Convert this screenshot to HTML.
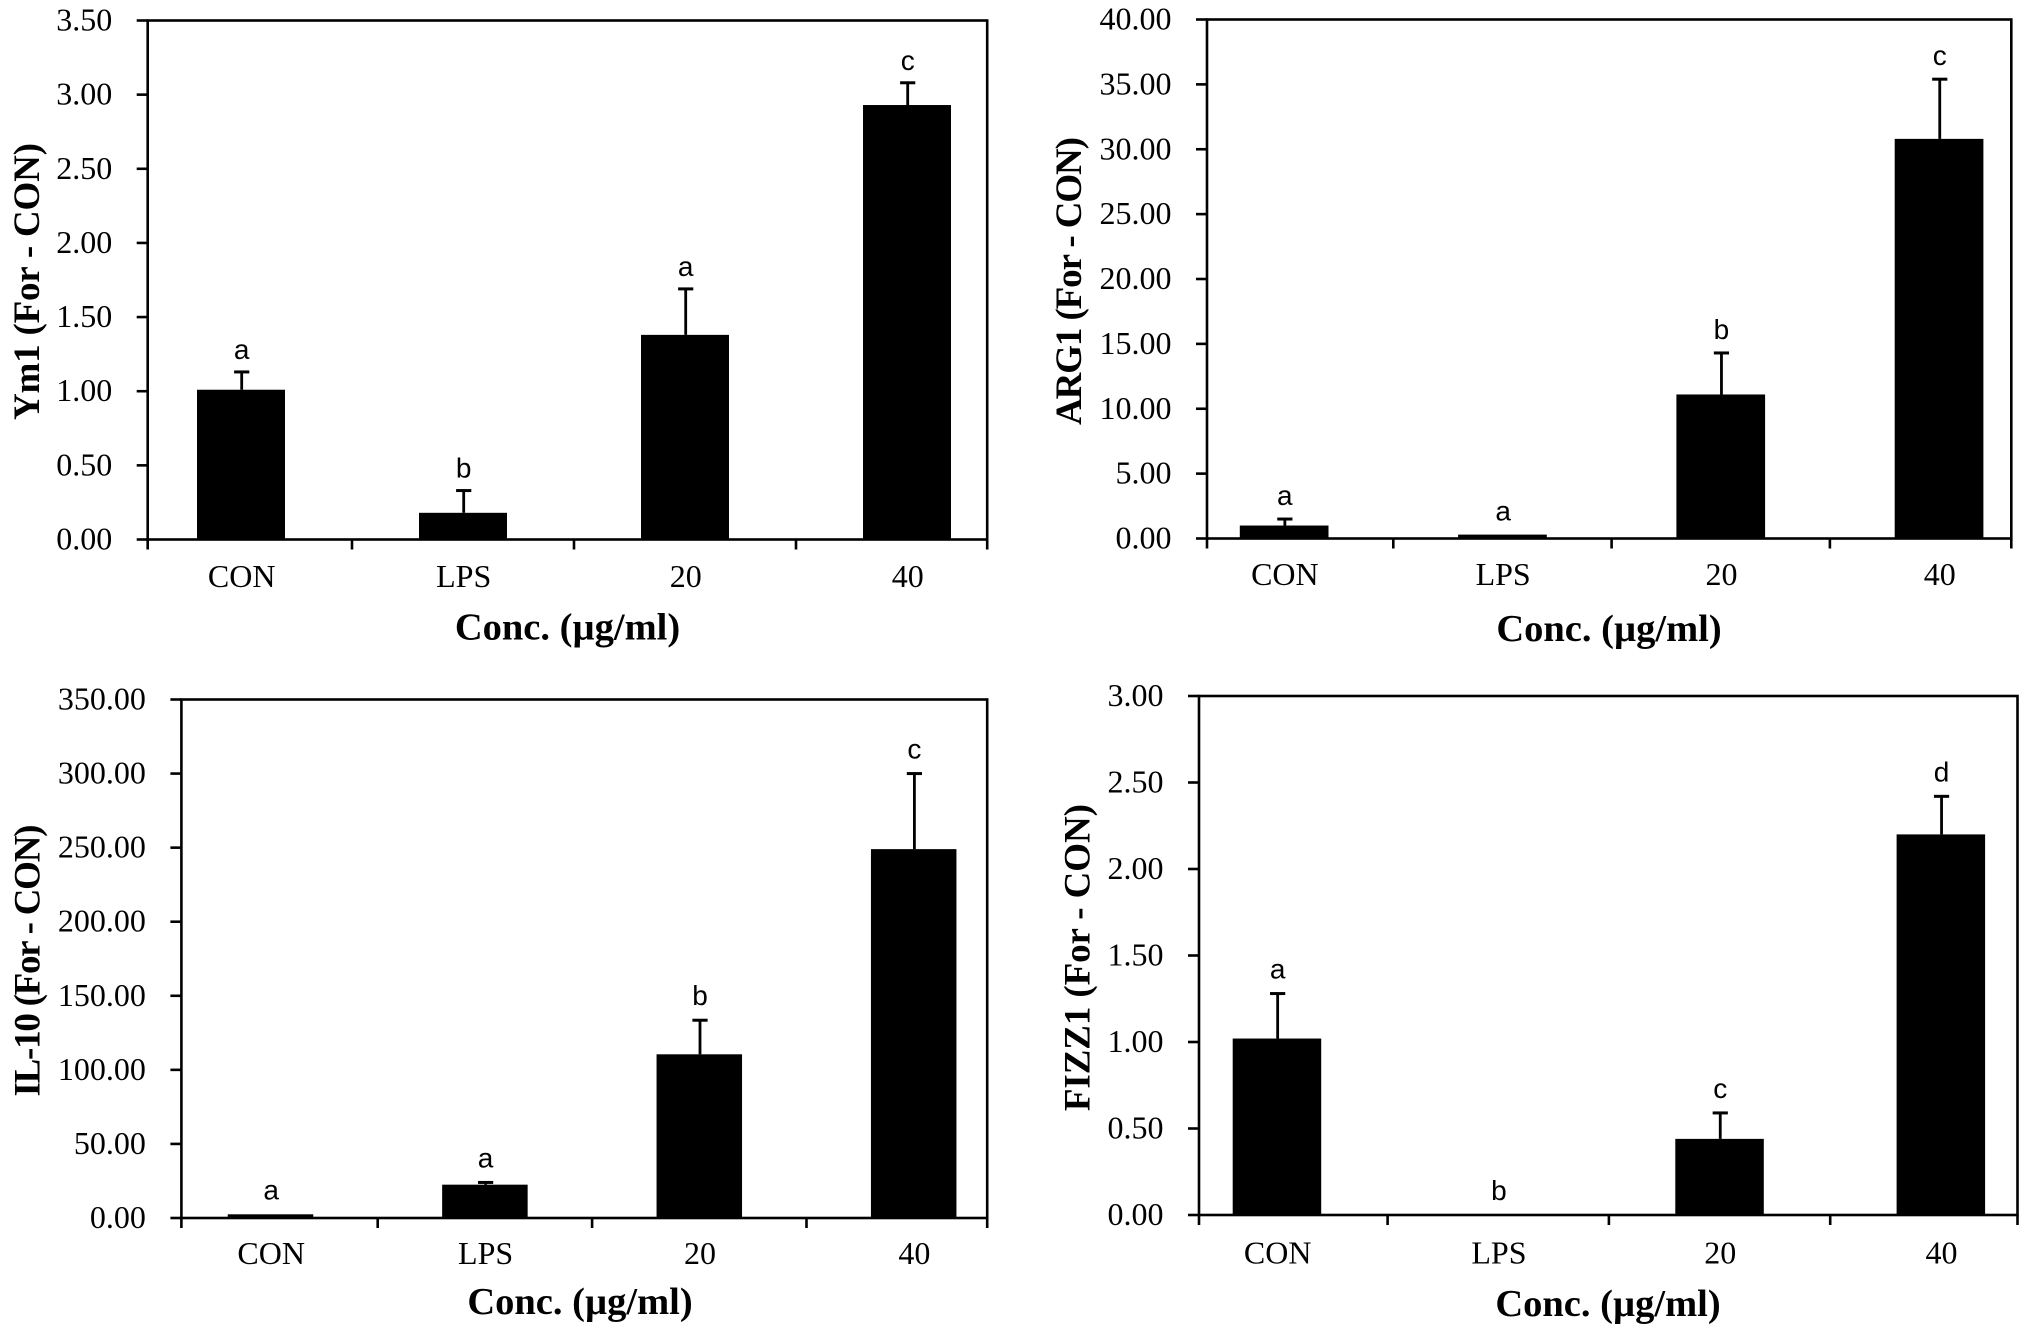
<!DOCTYPE html>
<html lang="en">
<head>
<meta charset="utf-8">
<title>Ym1, ARG1, IL-10 and FIZZ1 bar charts</title>
<style>
html,body{margin:0;padding:0;background:#fff;}
body{width:2031px;height:1335px;overflow:hidden;}
svg{display:block;}
.tick{font-family:"Liberation Serif",serif;font-size:32px;fill:#000;}
.title{font-family:"Liberation Serif",serif;font-size:37px;font-weight:bold;fill:#000;}
.xtitle{font-size:38.5px;}
.sig{font-family:"Liberation Sans",sans-serif;font-size:28px;fill:#000;}
</style>
</head>
<body>
<svg id="figure" xmlns="http://www.w3.org/2000/svg" width="2031" height="1335" viewBox="0 0 2031 1335"></svg>
<script>
// Shared categories
const categories = ['CON', 'LPS', '20', '40'];

// Ym1 panel data
const ym1Values = [1.01, 0.18, 1.38, 2.93];
const ym1Errors = [0.12, 0.15, 0.31, 0.15];
const ym1Letters = ['a', 'b', 'a', 'c'];
const ym1Ticks = [0, 0.5, 1, 1.5, 2, 2.5, 3, 3.5];

// ARG1 panel data
const arg1Values = [1.0, 0.3, 11.1, 30.8];
const arg1Errors = [0.5, 0, 3.2, 4.6];
const arg1Letters = ['a', 'a', 'b', 'c'];
const arg1Ticks = [0, 5, 10, 15, 20, 25, 30, 35, 40];

// IL-10 panel data
const il10Values = [2.5, 22.5, 110.5, 249];
const il10Errors = [0, 1.5, 23, 51];
const il10Letters = ['a', 'a', 'b', 'c'];
const il10Ticks = [0, 50, 100, 150, 200, 250, 300, 350];

// FIZZ1 panel data
const fizz1Values = [1.02, 0, 0.44, 2.20];
const fizz1Errors = [0.26, 0, 0.15, 0.22];
const fizz1Letters = ['a', 'b', 'c', 'd'];
const fizz1Ticks = [0, 0.5, 1, 1.5, 2, 2.5, 3];

const NS = 'http://www.w3.org/2000/svg';
const fig = document.getElementById('figure');

function make(parent, tag, attrs, text) {
  const el = document.createElementNS(NS, tag);
  for (const k in attrs) el.setAttribute(k, attrs[k]);
  if (text !== undefined) el.textContent = text;
  parent.appendChild(el);
  return el;
}

function drawPanel(p) {
  const g = make(fig, 'g', {});
  
  

  const yMax = p.ticks[p.ticks.length - 1];
  const y = v => p.bottom - (v / yMax) * (p.bottom - p.top);
  const bandEdge = i => p.bandStart + i * p.step;
  const xc = i => bandEdge(i) + p.step / 2;

  // bars and error bars
  p.values.forEach((v, i) => {
    if (v > 0) {
      const bar = make(g, 'rect', {x: xc(i) - p.barW / 2, y: y(v), width: p.barW, height: p.bottom - y(v), fill: '#000'});
      
      
    }
    const e = p.errors[i];
    const topVal = v + e;
    if (e > 0) {
      const ex = xc(i) + 0.7;
      const stem = make(g, 'line', {x1: ex, x2: ex, y1: y(v), y2: y(topVal), stroke: '#000', 'stroke-width': 2.8});
      
      
      const cap = make(g, 'line', {x1: ex - 7.6, x2: ex + 7.6, y1: y(topVal), y2: y(topVal), stroke: '#000', 'stroke-width': 3});
      
      
    }
    const letter = make(g, 'text', {class: 'sig', x: xc(i) + 0.7, y: y(topVal) - p.letterGap, 'text-anchor': 'middle'}, p.letters[i]);
    
    
  });

  // frame
  const frame = make(g, 'rect', {x: p.left, y: p.top, width: p.right - p.left, height: p.bottom - p.top, fill: 'none', stroke: '#000', 'stroke-width': 2.6});
  
  

  // y ticks
  p.ticks.forEach(t => {
    const ty = y(t);
    const tick = make(g, 'line', {x1: p.left - 11, x2: p.left, y1: ty, y2: ty, stroke: '#000', 'stroke-width': 2.6});
    
    
    const lab = make(g, 'text', {class: 'tick', x: p.left - 35.5, y: ty + 10, 'text-anchor': 'end'}, t.toFixed(2));
    
    
  });

  // x ticks: the plot frame edges plus the inner category boundaries
  const xTicks = [p.left, bandEdge(1), bandEdge(2), bandEdge(3), p.right];
  xTicks.forEach(tx => {
    const tick = make(g, 'line', {x1: tx, x2: tx, y1: p.bottom, y2: p.bottom + 10, stroke: '#000', 'stroke-width': 2.6});
    
    
  });
  categories.forEach((c, i) => {
    const lab = make(g, 'text', {class: 'tick', x: xc(i) + 0.7, y: p.catY, 'text-anchor': 'middle'}, c);
    
    
  });

  // titles
  const xt = make(g, 'text', {class: 'title xtitle', x: p.xTitleX, y: p.xTitleY, 'text-anchor': 'middle'}, 'Conc. (\u00b5g/ml)');
  
  
  const yt = make(g, 'text', {class: 'title', transform: 'translate(' + p.yTitleX + ',' + p.yTitleY + ') rotate(-90)', 'text-anchor': 'middle', textLength: p.yTitleLen, lengthAdjust: 'spacing'}, p.yTitle);
  
  
}

drawPanel({id: 'ym1', values: ym1Values, errors: ym1Errors, letters: ym1Letters, ticks: ym1Ticks, yTitle: 'Ym1 (For - CON)',
  left: 147.7, right: 987.2, top: 20.5, bottom: 539.5, bandStart: 130, step: 222, barW: 88,
  letterGap: 13, catY: 587, xTitleX: 567.5, xTitleY: 639.5, yTitleX: 39, yTitleY: 281.5, yTitleLen: 277});

drawPanel({id: 'arg1', values: arg1Values, errors: arg1Errors, letters: arg1Letters, ticks: arg1Ticks, yTitle: 'ARG1 (For - CON)',
  left: 1207, right: 2011.3, top: 19.5, bottom: 538.5, bandStart: 1175, step: 218.3, barW: 88.7,
  letterGap: 14, catY: 585, xTitleX: 1609, xTitleY: 641, yTitleX: 1081, yTitleY: 281, yTitleLen: 288});

drawPanel({id: 'il10', values: il10Values, errors: il10Errors, letters: il10Letters, ticks: il10Ticks, yTitle: 'IL-10 (For - CON)',
  left: 181.4, right: 987.2, top: 699.5, bottom: 1218, bandStart: 163.3, step: 214.4, barW: 85.5,
  letterGap: 15, catY: 1264, xTitleX: 580, xTitleY: 1314, yTitleX: 39.5, yTitleY: 960.5, yTitleLen: 272});

drawPanel({id: 'fizz1', values: fizz1Values, errors: fizz1Errors, letters: fizz1Letters, ticks: fizz1Ticks, yTitle: 'FIZZ1 (For - CON)',
  left: 1199, right: 2017.5, top: 696, bottom: 1215, bandStart: 1166.3, step: 221.3, barW: 88.5,
  letterGap: 15, catY: 1263.5, xTitleX: 1608, xTitleY: 1316, yTitleX: 1089.5, yTitleY: 957.6, yTitleLen: 307});
</script>
</body>
</html>
